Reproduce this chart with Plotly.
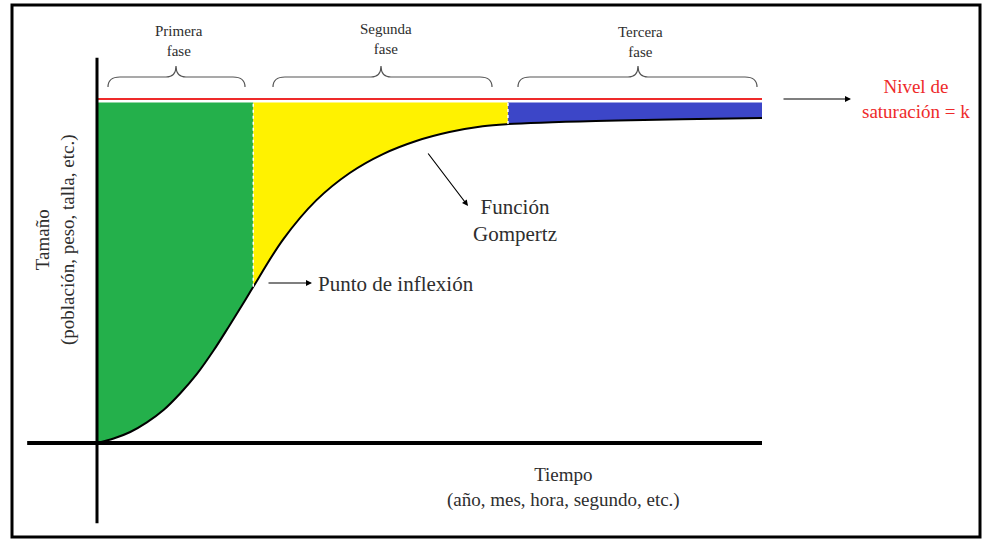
import plotly.graph_objects as go

# ---- data ----
time = [0, 0.25, 0.5, 0.75, 1.0, 1.25, 1.5, 1.75, 2.0, 2.2, 2.35, 2.8, 3.3, 3.8, 4.3, 4.8, 5.3, 5.8, 6.18, 7.5, 8.8, 10]
size = [0, 1.3, 3.2, 6.0, 9.6, 14.4, 20.0, 26.8, 34.4, 40.6, 45.4, 59.2, 70.6, 78.5, 84.0, 87.8, 90.4, 92.1, 92.7, 93.6, 94.1, 94.5]
phase_labels = ["Primera<br>fase", "Segunda<br>fase", "Tercera<br>fase"]
phase_bounds = [0, 2.35, 6.18, 10]
phase_colors = ["#24b04b", "#fff200", "#3c46c8"]
k_level = 100
fill_top = 99

W, H = 984, 540
# pixel -> paper helpers for decorations
px = lambda x: x / W
py = lambda y: 1 - y / H

fig = go.Figure()

# phase fills (between the curve and the saturation level)
for i in range(3):
    a, b = phase_bounds[i], phase_bounds[i + 1]
    seg_t = [t for t in time if a <= t <= b]
    seg_s = [s for t, s in zip(time, size) if a <= t <= b]
    fig.add_trace(go.Scatter(x=[a, b], y=[fill_top, fill_top], mode="lines",
                             line=dict(width=0, color=phase_colors[i]), hoverinfo="skip"))
    fig.add_trace(go.Scatter(x=seg_t, y=seg_s, mode="lines", fill="tonexty",
                             fillcolor=phase_colors[i], line=dict(width=0, shape="spline"),
                             hoverinfo="skip"))

# saturation level
fig.add_trace(go.Scatter(x=[0, 10], y=[k_level, k_level], mode="lines",
                         line=dict(color="#ee2a2a", width=2), hoverinfo="skip"))

# Gompertz curve
fig.add_trace(go.Scatter(x=time, y=size, mode="lines",
                         line=dict(color="black", width=2, shape="spline"), hoverinfo="skip"))

shapes = []
# white dotted phase boundaries
for b in phase_bounds[1:3]:
    yb = size[time.index(b)]
    shapes.append(dict(type="line", xref="x", yref="y", x0=b, x1=b, y0=yb, y1=fill_top,
                       line=dict(color="white", width=1.5, dash="dot")))
# axes
shapes.append(dict(type="line", xref="x", yref="y", x0=-1.05, x1=10, y0=0, y1=0,
                   line=dict(color="black", width=4)))
shapes.append(dict(type="line", xref="x", yref="y", x0=0, x1=0, y0=-23.3, y1=112,
                   line=dict(color="black", width=3)))
# border
shapes.append(dict(type="rect", xref="paper", yref="paper", x0=px(12), x1=px(980),
                   y0=py(537), y1=py(5), line=dict(color="black", width=3)))

# braces
def brace(x0, tip, x1, yb=87, ym=77, yt=66):
    p = (f"M {px(x0)},{py(yb)} Q {px(x0)},{py(ym)} {px(x0+12)},{py(ym)} "
         f"L {px(tip-10)},{py(ym)} Q {px(tip)},{py(ym)} {px(tip)},{py(yt)} "
         f"Q {px(tip)},{py(ym)} {px(tip+10)},{py(ym)} L {px(x1-12)},{py(ym)} "
         f"Q {px(x1)},{py(ym)} {px(x1)},{py(yb)}")
    return dict(type="path", xref="paper", yref="paper", path=p,
                line=dict(color="#555555", width=1.2))

brace_geo = [(108, 176, 245), (273, 381, 492), (518, 638, 757)]
for g in brace_geo:
    shapes.append(brace(*g))

FONT = "Liberation Serif, DejaVu Serif, serif"
TXT = "#2e2e2e"
ann = []
label_pos = [(179, 41), (386, 39), (640, 42)]
for lab, (x, y) in zip(phase_labels, label_pos):
    ann.append(dict(xref="paper", yref="paper", x=px(x), y=py(y), text=lab, showarrow=False,
                    font=dict(family=FONT, size=15, color=TXT), xanchor="center", yanchor="middle"))


def arrow(x_head, y_head, x_tail, y_tail):
    return dict(xref="paper", yref="paper", x=px(x_head), y=py(y_head),
                ax=x_tail - x_head, ay=y_tail - y_head, axref="pixel", ayref="pixel",
                text="", showarrow=True, arrowhead=2, arrowsize=1, arrowwidth=1.2,
                arrowcolor="black")


ann.append(dict(xref="paper", yref="paper", x=px(916), y=py(99),
                text="Nivel de<br>saturación = k", showarrow=False,
                font=dict(family=FONT, size=19, color="#ee2a2a"), xanchor="center", yanchor="middle"))
ann.append(arrow(851, 99, 782, 99))

ann.append(dict(xref="paper", yref="paper", x=px(515), y=py(221),
                text="Función<br>Gompertz", showarrow=False,
                font=dict(family=FONT, size=21, color=TXT), xanchor="center", yanchor="middle"))
ann.append(arrow(468, 206, 427, 152))

ann.append(dict(xref="paper", yref="paper", x=px(316), y=py(284),
                text="Punto de inflexión", showarrow=False,
                font=dict(family=FONT, size=21, color=TXT), xanchor="left", yanchor="middle"))
ann.append(arrow(312, 283, 267, 283))

ann.append(dict(xref="paper", yref="paper", x=px(563), y=py(487),
                text="Tiempo<br>(año, mes, hora, segundo, etc.)", showarrow=False,
                font=dict(family=FONT, size=19, color=TXT), xanchor="center", yanchor="middle"))
ann.append(dict(xref="paper", yref="paper", x=px(55), y=py(240),
                text="Tamaño<br>(población, peso, talla, etc.)", showarrow=False, textangle=-90,
                font=dict(family=FONT, size=19, color=TXT), xanchor="center", yanchor="middle"))

fig.update_layout(
    width=W, height=H, autosize=False,
    margin=dict(l=0, r=0, t=0, b=0),
    paper_bgcolor="white", plot_bgcolor="white",
    showlegend=False,
    xaxis=dict(visible=False, range=[-97 / 66.5, (W - 97) / 66.5], fixedrange=True),
    yaxis=dict(visible=False, range=[(443 - H) / 3.44, 443 / 3.44], fixedrange=True),
    shapes=shapes, annotations=ann,
)

fig.write_html("out.html", config={"displayModeBar": False},
               post_script="document.body.style.margin='0';document.body.style.overflow='hidden';")
